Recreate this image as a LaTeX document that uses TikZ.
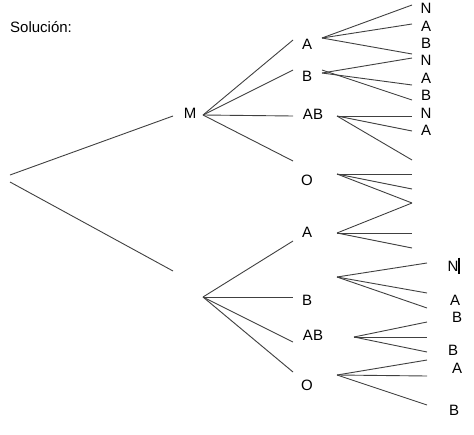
\documentclass[tikz,border=0pt]{standalone}
\usepackage{fontspec}
\setmainfont{Liberation Sans}
\usepackage{tikz}

\begin{document}
\begin{tikzpicture}[x=1pt,y=-1pt,every node/.style={inner sep=0pt,font=\fontsize{15}{17}\selectfont},
  branch/.style={draw=black!75,line width=0.9pt}]
            \useasboundingbox (0,0) rectangle (474,434);
            \node[anchor=west] at (10,27) (sol) {Solución:};
            % root
            \coordinate (r1) at (10,175);
            \coordinate (r2) at (10,182);
            \coordinate (min) at (173,116);
            \coordinate (lin) at (173,271);
            \draw[branch] (r1) to (min);
            \draw[branch] (r2) to (lin);
            \node[] at (190,113) (m) {M};
            % upper branch
            \coordinate (mb) at (203,115);
            \coordinate (ua) at (293,40);
            \coordinate (ub) at (293,70);
            \coordinate (uab) at (293,116);
            \coordinate (uo) at (293,161);
            \draw[branch] (mb) to (ua);
            \draw[branch] (mb) to (ub);
            \draw[branch] (mb) to (uab);
            \draw[branch] (mb) to (uo);
            \node[] at (307,44) (a1) {A};
            \node[] at (307,76) (b1) {B};
            \node[] at (313,114) (ab1) {AB};
            \node[] at (307,180) (o1) {O};
            \node[] at (307,232) (a2) {A};
            % leaves upper
            \node[] at (426,8) (n1) {N};
            \node[] at (426,26) (a3) {A};
            \node[] at (426,43) (b3) {B};
            \node[] at (426,60) (n2) {N};
            \node[] at (426,78) (a4) {A};
            \node[] at (426,95) (b4) {B};
            \node[] at (426,113) (n3) {N};
            \node[] at (426,130) (a5) {A};
            \coordinate (as) at (322,38);
            \coordinate (bs1) at (322,73);
            \coordinate (bs2) at (322,70);
            \coordinate (abs) at (337,116);
            \coordinate (os) at (337,174);
            \coordinate (as2) at (337,233);
            \coordinate (e1) at (412,5);
            \coordinate (e2) at (412,24);
            \coordinate (e3) at (412,54);
            \coordinate (e4) at (412,58);
            \coordinate (e5) at (412,85);
            \coordinate (e6) at (412,100);
            \coordinate (e7) at (412,116);
            \coordinate (e8) at (412,131);
            \coordinate (e9) at (412,160);
            \coordinate (e10) at (412,174);
            \coordinate (e11) at (412,189);
            \coordinate (e12) at (412,203);
            \coordinate (e13) at (412,233);
            \coordinate (e14) at (412,248);
            \draw[branch] (as) to (e1);
            \draw[branch] (as) to (e2);
            \draw[branch] (as) to (e3);
            \draw[branch] (bs1) to (e4);
            \draw[branch] (bs1) to (e5);
            \draw[branch] (bs2) to (e6);
            \draw[branch] (abs) to (e7);
            \draw[branch] (abs) to (e8);
            \draw[branch] (abs) to (e9);
            \draw[branch] (os) to (e10);
            \draw[branch] (os) to (e11);
            \draw[branch] (os) to (e12);
            \draw[branch] (as2) to (e12);
            \draw[branch] (as2) to (e13);
            \draw[branch] (as2) to (e14);
            % lower branch
            \coordinate (lb) at (203,297);
            \coordinate (la) at (293,241);
            \coordinate (lbb) at (293,297);
            \coordinate (lab) at (293,342);
            \coordinate (lo) at (293,372);
            \draw[branch] (lb) to (la);
            \draw[branch] (lb) to (lbb);
            \draw[branch] (lb) to (lab);
            \draw[branch] (lb) to (lo);
            \node[] at (307,300) (b2) {B};
            \node[] at (313,335) (ab2) {AB};
            \node[] at (307,385) (o2) {O};
            \coordinate (lbs) at (337,277);
            \coordinate (labs) at (354,337);
            \coordinate (los) at (337,375);
            \coordinate (f1) at (427,263);
            \coordinate (f2) at (427,293);
            \coordinate (f3) at (427,308);
            \coordinate (f4) at (427,322);
            \coordinate (f5) at (427,337);
            \coordinate (f6) at (427,352);
            \coordinate (f7) at (427,360);
            \coordinate (f8) at (427,376);
            \coordinate (f9) at (427,405);
            \draw[branch] (lbs) to (f1);
            \draw[branch] (lbs) to (f2);
            \draw[branch] (lbs) to (f3);
            \draw[branch] (labs) to (f4);
            \draw[branch] (labs) to (f5);
            \draw[branch] (labs) to (f6);
            \draw[branch] (los) to (f7);
            \draw[branch] (los) to (f8);
            \draw[branch] (los) to (f9);
            % leaves lower
            \node[] at (453,266) (n4) {N};
            \draw[line width=1.6pt] ([xshift=0.5pt,yshift=3pt]n4.north east) -- ([xshift=0.5pt,yshift=-3pt]n4.south east);
            \node[] at (455,300) (a6) {A};
            \node[] at (457,317) (b5) {B};
            \node[] at (453,350) (b6) {B};
            \node[] at (457,368) (a7) {A};
            \node[] at (454,410) (b7) {B};
        \end{tikzpicture}
\end{document}
